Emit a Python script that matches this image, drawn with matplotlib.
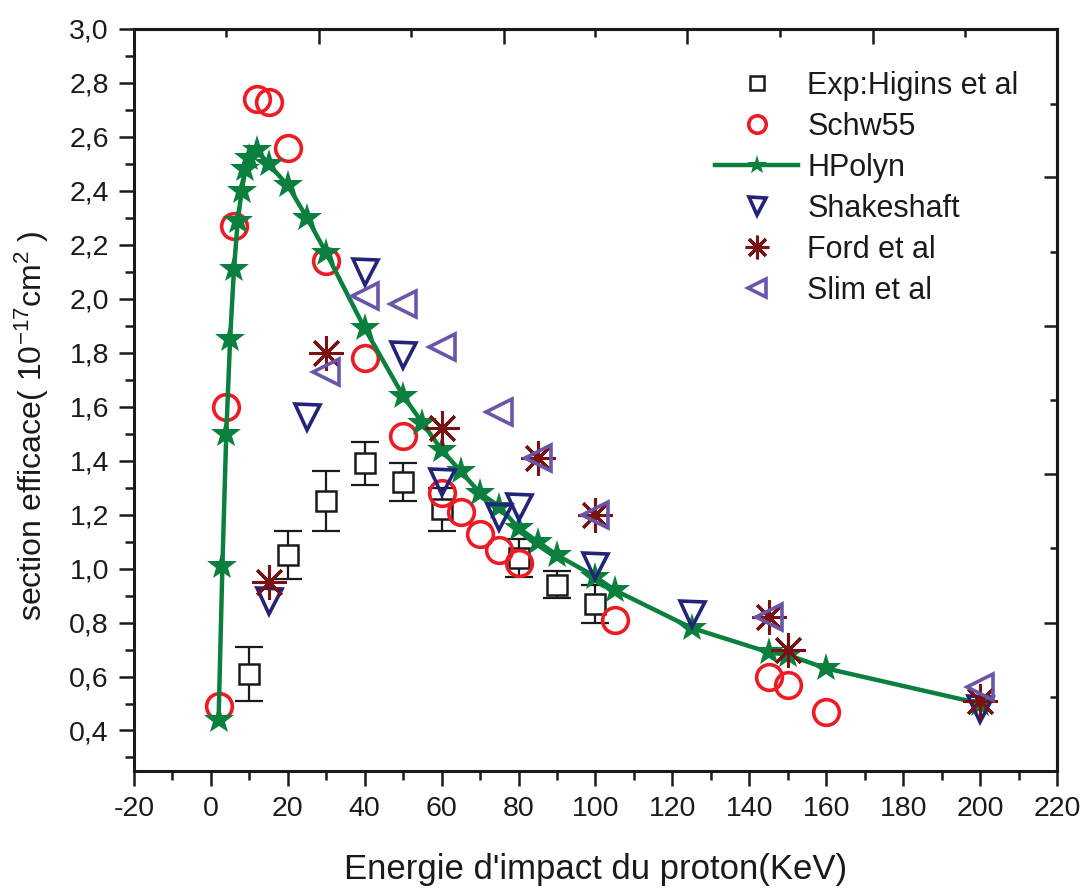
import numpy as np
import matplotlib
matplotlib.use("Agg")
import matplotlib.pyplot as plt
from matplotlib.ticker import MultipleLocator, FixedLocator, NullFormatter

plt.rcParams['font.family'] = ['Liberation Sans', 'DejaVu Sans']
plt.rcParams['mathtext.default'] = 'regular'
plt.rcParams['axes.unicode_minus'] = False

# Exp: Higins et al (with error bars)
exp_x = [10, 20, 30, 40, 50, 60, 80, 90, 100]
exp_y = [0.61, 1.05, 1.25, 1.39, 1.32, 1.22, 1.04, 0.94, 0.87]
exp_err = [0.10, 0.09, 0.11, 0.08, 0.07, 0.08, 0.07, 0.05, 0.07]

# Schw55
schw_x = [2, 4, 6, 12, 15, 20, 30, 40, 50, 60, 65, 70, 75, 80, 105, 145, 150, 160]
schw_y = [0.49, 1.60, 2.27, 2.74, 2.73, 2.56, 2.14, 1.78, 1.49, 1.28, 1.21, 1.13, 1.07, 1.02,
          0.81, 0.60, 0.57, 0.47]

# HPolyn
hp_x = [2, 3, 4, 5, 6, 7, 8, 9, 10, 12, 15, 20, 25, 30, 40, 50, 55, 60, 65, 70, 75, 80,
        85, 90, 100, 105, 125, 145, 150, 160, 200]
hp_y = [0.44, 1.01, 1.50, 1.85, 2.11, 2.29, 2.40, 2.48, 2.52, 2.55, 2.50, 2.42, 2.30, 2.17,
        1.89, 1.64, 1.54, 1.44, 1.36, 1.28, 1.23, 1.15, 1.10, 1.05, 0.97, 0.92, 0.78,
        0.69, 0.68, 0.63, 0.50]

# Shakeshaft
shk_x = [15, 25, 40, 50, 60, 75, 80, 100, 125, 200]
shk_y = [0.88, 1.56, 2.10, 1.79, 1.32, 1.19, 1.23, 1.01, 0.83, 0.48]

# Ford et al
ford_x = [15, 30, 60, 85, 100, 145, 150, 200]
ford_y = [0.95, 1.80, 1.52, 1.41, 1.20, 0.82, 0.70, 0.51]

# Slim et al
slim_x = [30, 40, 50, 60, 75, 85, 100, 145, 200]
slim_y = [1.73, 2.01, 1.98, 1.82, 1.58, 1.41, 1.20, 0.82, 0.56]

y_ticks = [0.4, 0.6, 0.8, 1.0, 1.2, 1.4, 1.6, 1.8, 2.0, 2.2, 2.4, 2.6, 2.8, 3.0]
y_ticklabels = ["0,4", "0,6", "0,8", "1,0", "1,2", "1,4", "1,6", "1,8", "2,0", "2,2",
                "2,4", "2,6", "2,8", "3,0"]
x_ticks = list(range(-20, 221, 20))

# ticks of the linked top / right layer
top_major = [28.0, 76.1, 123.9, 172.2]
top_minor = [3.9, 52.0, 100.0, 148.0, 196.0]
right_major = [2.45, 1.90, 1.35, 0.80]
right_minor = [2.72, 2.175, 1.625, 1.075, 0.525]

c_green = '#0b7f3d'
c_red = '#ed1c24'
c_navy = '#23237a'
c_dred = '#7a1214'
c_purple = '#6b55a8'

fig = plt.figure(figsize=(10.82, 8.88), dpi=100)
ax = fig.add_axes([0.1238, 0.1318, 0.8531, 0.8356])

ax.errorbar(exp_x, exp_y, yerr=exp_err, fmt='none', ecolor='#1a1a1a', elinewidth=1.6,
            capsize=10, capthick=1.6, zorder=2)
ax.plot(exp_x, exp_y, ls='none', marker='s', ms=14.5, mfc='white', mec='#1a1a1a', mew=1.8,
        label='Exp:Higins et al', zorder=3)
ax.plot(schw_x, schw_y, ls='none', marker='o', ms=18.5, mfc='none', mec=c_red, mew=2.6,
        label='Schw55', zorder=4)
ax.plot(hp_x, hp_y, color=c_green, lw=3.2, marker='*', ms=22, mfc=c_green, mec=c_green,
        mew=0, label='HPolyn', zorder=5)
ax.plot(shk_x, shk_y, ls='none', marker='v', ms=18, mfc='none', mec=c_navy, mew=2.6,
        label='Shakeshaft', zorder=6)
ax.plot(ford_x, ford_y, ls='none', marker=(8, 2, 0), ms=25, mec=c_dred, mew=2.2,
        label='Ford et al', zorder=7)
ax.plot(slim_x, slim_y, ls='none', marker='<', ms=19, mfc='none', mec=c_purple, mew=2.6,
        label='Slim et al', zorder=8)

ax.set_xlim(-20, 220)
ax.set_ylim(0.25, 3.0)
ax.set_xticks(x_ticks)
ax.xaxis.set_minor_locator(MultipleLocator(10))
ax.set_yticks(y_ticks)
ax.set_yticklabels(y_ticklabels)
ax.yaxis.set_minor_locator(MultipleLocator(0.1))

for s in ax.spines.values():
    s.set_linewidth(2.2)
    s.set_color('#1a1a1a')
ax.tick_params(which='major', direction='out', length=11, width=1.8, labelsize=20.5,
               colors='#1a1a1a', pad=7)
ax.tick_params(which='minor', direction='out', length=6.5, width=1.8, colors='#1a1a1a')
ax.tick_params(top=False, right=False, which='both')

top = ax.secondary_xaxis('top')
top.xaxis.set_major_locator(FixedLocator(top_major))
top.xaxis.set_minor_locator(FixedLocator(top_minor))
top.xaxis.set_major_formatter(NullFormatter())
top.tick_params(which='major', direction='in', length=11, width=1.8, colors='#1a1a1a')
top.tick_params(which='minor', direction='in', length=5.5, width=1.8, colors='#1a1a1a')
top.spines['top'].set_linewidth(2.2)

right = ax.secondary_yaxis('right')
right.yaxis.set_major_locator(FixedLocator(right_major))
right.yaxis.set_minor_locator(FixedLocator(right_minor))
right.yaxis.set_major_formatter(NullFormatter())
right.tick_params(which='major', direction='in', length=9.5, width=1.8, colors='#1a1a1a')
right.tick_params(which='minor', direction='in', length=5, width=1.8, colors='#1a1a1a')
right.spines['right'].set_linewidth(2.2)

ax.set_xlabel("Energie d'impact du proton(KeV)", fontsize=25, color='#1a1a1a')
ax.xaxis.set_label_coords(0.5, -0.111)
ax.set_ylabel("section efficace( 10$^{-17}$cm$^{2}$ )", fontsize=23, color='#1a1a1a')
ax.yaxis.set_label_coords(-0.09, 0.466)

leg = ax.legend(loc='upper left', bbox_to_anchor=(0.63, 0.944), frameon=False,
                fontsize=22, markerscale=0.68, handlelength=2.7, handletextpad=0.3,
                labelspacing=0.36, borderpad=0, borderaxespad=0)
for t in leg.get_texts():
    t.set_color('#1a1a1a')

fig.savefig('out.png', dpi=100)
